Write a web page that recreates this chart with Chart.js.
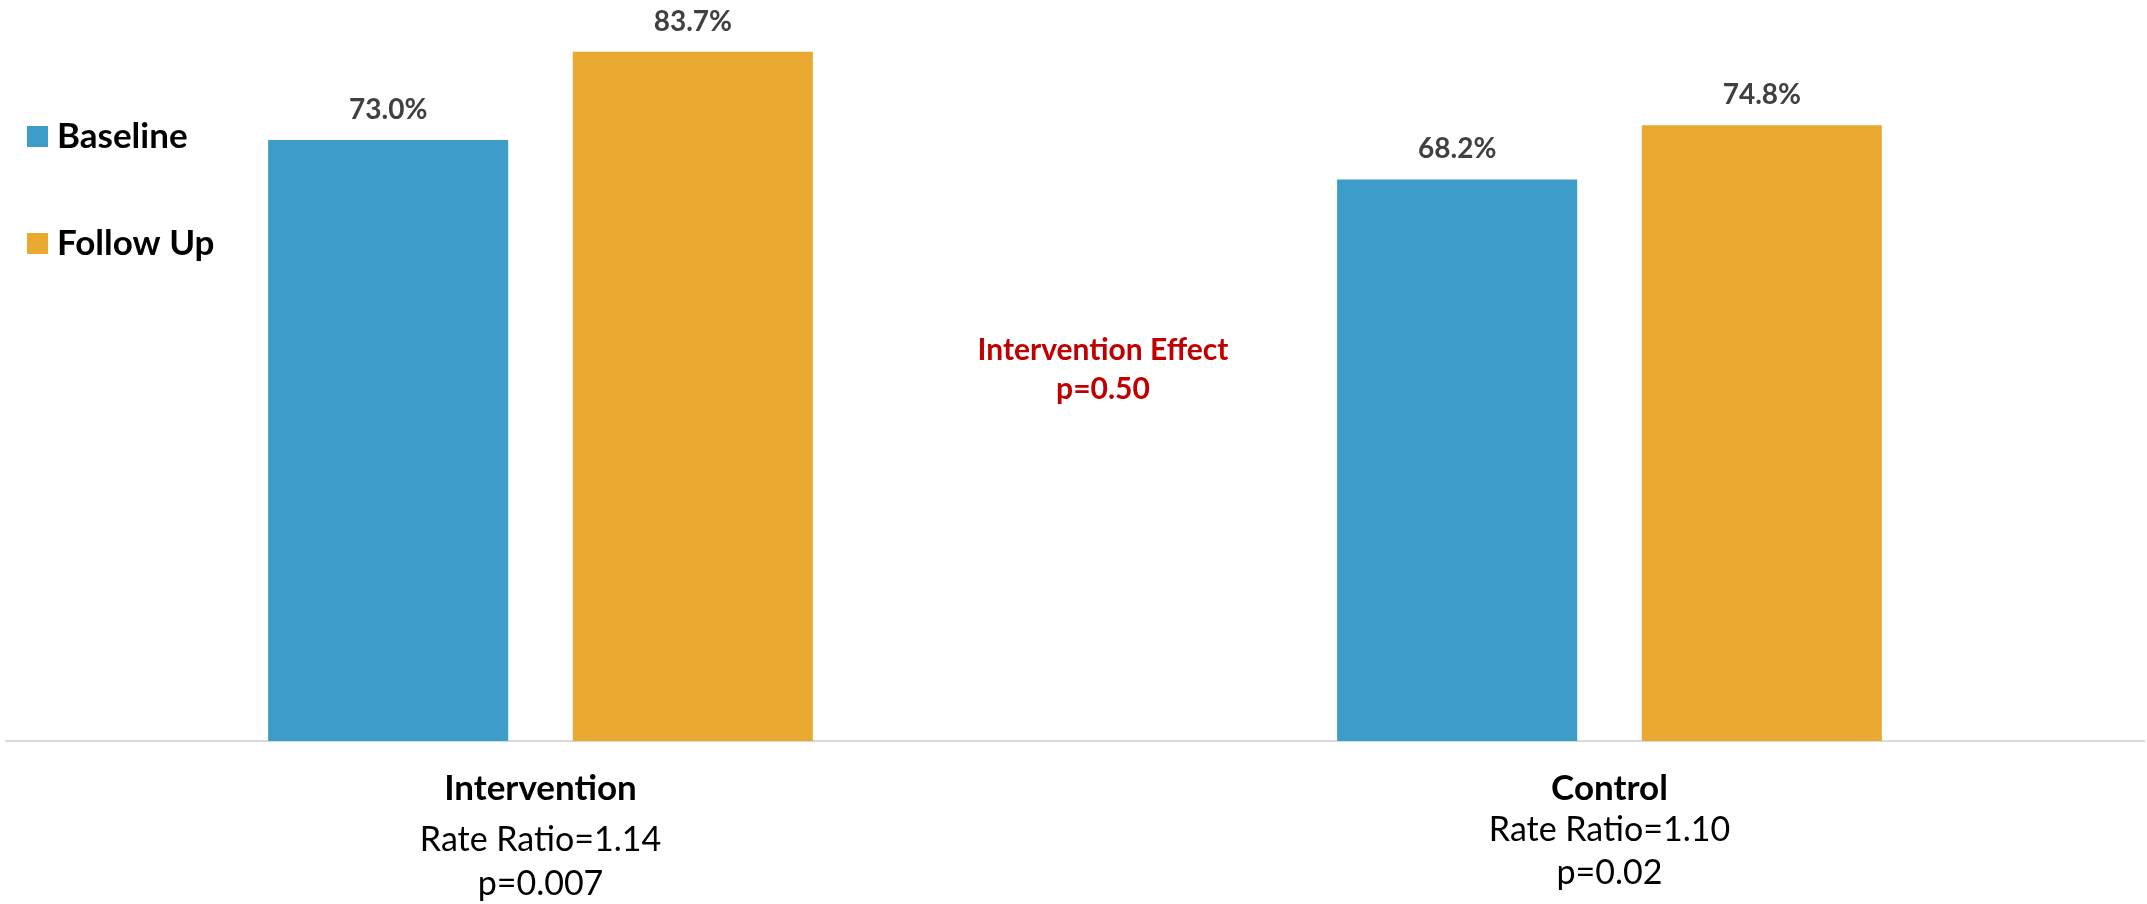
<!DOCTYPE html>
<html>
<head>
<meta charset="utf-8">
<script src="https://cdn.jsdelivr.net/npm/chart.js@4.4.1/dist/chart.umd.min.js"></script>
<style>
    body { margin: 0; background: #fff; }
</style>
</head>
<body>
<canvas id="myChart" width="2147" height="904"></canvas>
<script>
const categories = ['Intervention', 'Control'];
const rateRatios = ['Rate Ratio=1.14', 'Rate Ratio=1.10'];
const pValues = ['p=0.007', 'p=0.02'];
const seriesNames = ['Baseline', 'Follow Up'];
const baselineValues = [73.0, 68.2];
const followUpValues = [83.7, 74.8];
const effectLines = ['Intervention Effect', 'p=0.50'];

const fontFamily = 'Lato, "Open Sans", sans-serif';
const seriesColors = ['#3d9dc8', '#eaa930'];

// text under each group, offsets below the axis line (per category)
const subLineOffsets = [[59, 110, 154], [59, 100, 143]];

const labelPlugin = {
    id: 'extraLabels',
    afterDatasetsDraw(chart) {
        const ctx = chart.ctx;
        const area = chart.chartArea;
        ctx.save();
        ctx.textAlign = 'center';
        ctx.textBaseline = 'alphabetic';

        // value labels above the bars
        ctx.font = 'bold 28px ' + fontFamily;
        ctx.fillStyle = '#404040';
        chart.data.datasets.forEach((ds, d) => {
            chart.getDatasetMeta(d).data.forEach((bar, i) => {
                ctx.fillText(ds.data[i].toFixed(1) + '%', bar.x, bar.y - 21);
            });
        });

        // category labels with stats
        const xScale = chart.scales.x;
        ctx.fillStyle = '#000';
        categories.forEach((cat, i) => {
            const x = xScale.getPixelForValue(i);
            const off = subLineOffsets[i];
            ctx.font = 'bold 35px ' + fontFamily;
            ctx.fillText(cat, x, area.bottom + off[0]);
            ctx.font = '34px ' + fontFamily;
            ctx.fillText(rateRatios[i], x, area.bottom + off[1]);
            ctx.fillText(pValues[i], x, area.bottom + off[2]);
        });

        // intervention effect note
        ctx.font = 'bold 30px ' + fontFamily;
        ctx.fillStyle = '#c00000';
        ctx.fillText(effectLines[0], 1103, 360);
        ctx.fillText(effectLines[1], 1103, 399);

        // legend on the left
        ctx.textAlign = 'left';
        ctx.font = 'bold 35px ' + fontFamily;
        const legendY = [136, 243];
        chart.data.datasets.forEach((ds, d) => {
            ctx.fillStyle = ds.backgroundColor;
            ctx.fillRect(27, legendY[d] - 10, 21, 21);
            ctx.fillStyle = '#000';
            ctx.fillText(ds.label, 57, legendY[d] + 12);
        });
        ctx.restore();
    }
};

const ctx = document.getElementById('myChart').getContext('2d');
const chart1 = new Chart(ctx, {
    type: 'bar',
    data: {
        labels: categories,
        datasets: [{
            label: seriesNames[0],
            backgroundColor: seriesColors[0],
            data: baselineValues
        }, {
            label: seriesNames[1],
            backgroundColor: seriesColors[1],
            data: followUpValues
        }]
    },
    options: {
        responsive: false,
        animation: false,
        categoryPercentage: 0.57,
        barPercentage: 0.788,
        layout: {
            padding: { left: 6, right: 3, top: 0, bottom: 155 }
        },
        plugins: {
            legend: { display: false },
            tooltip: { enabled: false }
        },
        scales: {
            x: {
                grid: { display: false },
                ticks: { display: false },
                border: { color: '#d9d9d9', width: 2 }
            },
            y: {
                display: false,
                min: 0,
                max: 90
            }
        }
    },
    plugins: [labelPlugin]
});
</script>
</body>
</html>
